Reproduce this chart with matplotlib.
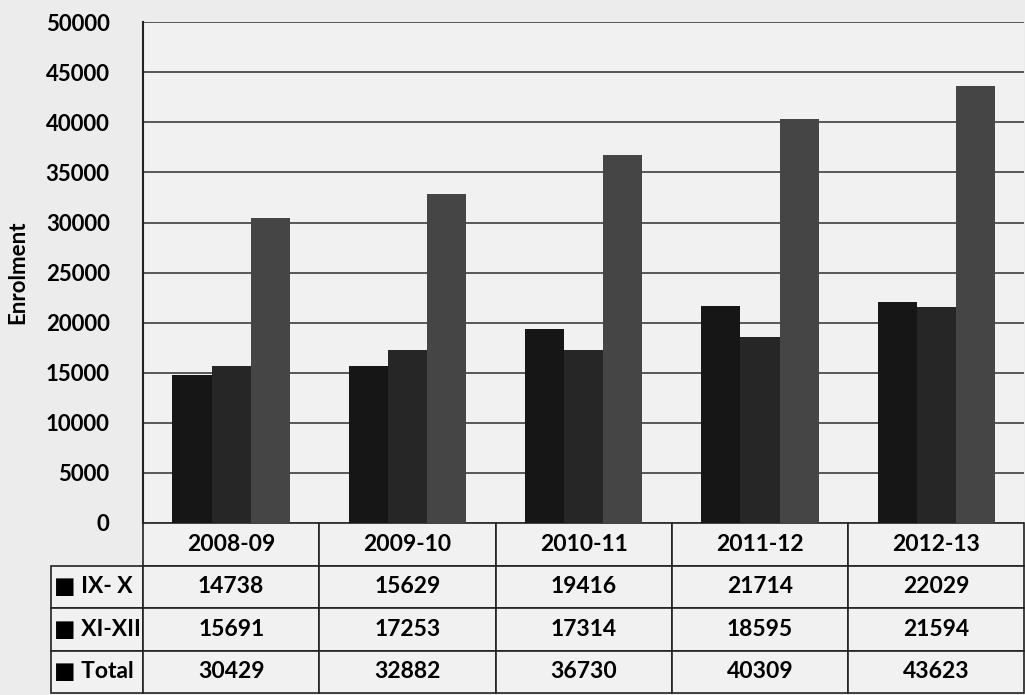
""" Enrolment in classes IX-X and XI-XII, 2008-09 to 2012-13, with data table. """

import numpy as np
import matplotlib.pyplot as plt

years = ["2008-09", "2009-10", "2010-11", "2011-12", "2012-13"]
ix_x = [14738, 15629, 19416, 21714, 22029]
xi_xii = [15691, 17253, 17314, 18595, 21594]
total = [30429, 32882, 36730, 40309, 43623]

series_names = ["IX- X", "XI-XII", "Total"]
colours = ["#161616", "#262626", "#454545"]

plt.rcParams["font.family"] = ["Lato", "DejaVu Sans"]
plt.rcParams["font.weight"] = "bold"

fig = plt.figure(figsize=(10.25, 6.95), dpi=100, facecolor="#ececec")
ax = fig.add_axes([0.1395, 0.2475, 0.86, 0.7205])
ax.set_facecolor("#f1f1f1")

x = np.arange(len(years))
w = 0.222
for i, (vals, col) in enumerate(zip([ix_x, xi_xii, total], colours)):
    ax.bar(x + (i - 1) * w, vals, w, color=col, zorder=3)

ax.set_xlim(-0.5, len(years) - 0.5)
ax.set_ylim(0, 50000)
ax.set_yticks(np.arange(0, 50001, 5000))
ax.set_xticks([])
ax.grid(axis="y", color="#2e2e2e", linewidth=1.1, zorder=1)
for side in ["top", "right", "bottom"]:
    ax.spines[side].set_visible(False)
ax.spines["left"].set_color("#222222")
ax.spines["left"].set_linewidth(1.5)
ax.tick_params(axis="y", length=0, pad=24, labelsize=16)
ax.set_ylabel("Enrolment", fontsize=16, fontweight="bold")
ax.yaxis.set_label_coords(-0.13, 0.5)

# data table under the plot; row labels hang out to the left
cells = [[str(v) for v in vals] for vals in [ix_x, xi_xii, total]]
tab = ax.table(cellText=cells,
               rowLabels=["\u25a0 " + n for n in series_names],
               colLabels=years,
               cellLoc="center", rowLoc="left",
               bbox=[0, -0.34, 1, 0.34])
tab.auto_set_font_size(False)
for (r, c), cell in tab.get_celld().items():
    cell.set_edgecolor("#222222")
    cell.set_linewidth(1.2)
    cell.set_facecolor("#f1f1f1")
    cell.get_text().set_fontsize(16.5)
    cell.get_text().set_fontweight("bold")
    if c == -1:
        cell.PAD = 0.03

fig.savefig("out.png", dpi=100, facecolor=fig.get_facecolor())
